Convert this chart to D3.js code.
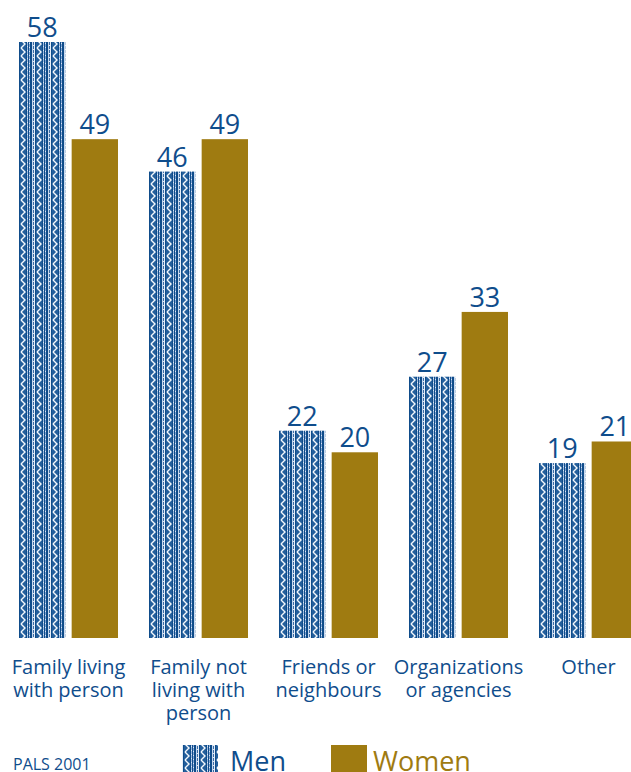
<!DOCTYPE html>
<html>
<head>
<meta charset="utf-8">
<script src="https://cdn.jsdelivr.net/npm/d3@7"></script>
<style>
  html, body { margin: 0; padding: 0; background: #fff; }
  svg { display: block; }
  text { font-family: "Open Sans", "DejaVu Sans", sans-serif; }
</style>
</head>
<body>
<svg id="chart" width="631" height="772"></svg>
<script>
// Source of help received, PALS 2001 (percent)
const categories = [
  ["Family living", "with person"],
  ["Family not", "living with", "person"],
  ["Friends or", "neighbours"],
  ["Organizations", "or agencies"],
  ["Other"]
];
const seriesNames = ["Men", "Women"];
const menValues = [58, 46, 22, 27, 19];
const womenValues = [49, 49, 20, 33, 21];
const sourceNote = "PALS 2001";

const BLUE = "#0f4d8c";
const GOLD = "#9f7b11";

const svg = d3.select("#chart");
const defs = svg.append("defs");

// Woven stripe texture used for the men's bars
const pat = defs.append("pattern")
  .attr("id", "weave")
  .attr("patternUnits", "userSpaceOnUse")
  .attr("x", 19).attr("y", 0)
  .attr("width", 16).attr("height", 8);
pat.append("rect").attr("width", 16).attr("height", 8).attr("fill", "#0f4c8a");
pat.append("rect").attr("x", 5).attr("width", 6).attr("height", 8).attr("fill", "#245f9c");
[[1, "#c9d9ee"], [2, "#3a6ca6"], [3, "#e6eef8"], [12, "#9fbbe0"], [14, "#7fa3d2"]]
  .forEach(([x, c]) => pat.append("rect").attr("x", x).attr("width", 1).attr("height", 8).attr("fill", c));
pat.append("path")
  .attr("d", "M6,0 L10,4 L6,8")
  .attr("fill", "none").attr("stroke", "#f4f8fc").attr("stroke-width", 1.4);
[[2, 1], [2, 5], [14, 3], [14, 7], [12, 2], [12, 6]].forEach(([x, yy]) =>
  pat.append("rect").attr("x", x).attr("y", yy).attr("width", 1).attr("height", 1).attr("fill", "#dce7f4"));

const x0 = d3.scaleBand()
  .domain(d3.range(categories.length))
  .range([12, 662])
  .paddingInner(0)
  .paddingOuter(0);

const x1 = d3.scaleBand()
  .domain(seriesNames)
  .range([7, x0.bandwidth() - 24])
  .paddingInner(0.12);

const y = d3.scaleLinear().domain([2.8, 58]).range([638, 42]);

const data = categories.map((c, i) => ({
  i,
  values: [
    { key: "Men", v: menValues[i] },
    { key: "Women", v: womenValues[i] }
  ]
}));

const groups = svg.append("g").selectAll("g")
  .data(data)
  .join("g")
  .attr("transform", d => `translate(${x0(d.i)},0)`);

groups.selectAll("rect")
  .data(d => d.values)
  .join("rect")
  .attr("x", d => x1(d.key))
  .attr("width", x1.bandwidth())
  .attr("y", d => y(d.v))
  .attr("height", d => y.range()[0] - y(d.v))
  .attr("fill", d => d.key === "Men" ? "url(#weave)" : GOLD);

groups.selectAll("text.val")
  .data(d => d.values)
  .join("text")
  .attr("class", "val")
  .attr("x", d => x1(d.key) + x1.bandwidth() / 2)
  .attr("y", d => y(d.v) - 5)
  .attr("text-anchor", "middle")
  .attr("font-size", 27)
  .attr("fill", BLUE)
  .text(d => d.v);

// Category labels under each group
groups.append("text")
  .attr("text-anchor", "middle")
  .attr("font-size", 20)
  .attr("fill", BLUE)
  .attr("transform", d => `translate(${x1("Men") + (x1("Women") + x1.bandwidth() - x1("Men")) / 2},674)`)
  .selectAll("tspan")
  .data(d => categories[d.i])
  .join("tspan")
  .attr("x", 0)
  .attr("dy", (d, j) => j === 0 ? 0 : 23)
  .text(d => d);

// Source note
svg.append("text")
  .attr("x", 13).attr("y", 770)
  .attr("font-size", 16)
  .attr("fill", BLUE)
  .text(sourceNote);

// Legend
const legend = svg.append("g");
const legendItems = [
  { name: seriesNames[0], fill: "url(#weave)", color: BLUE, x: 182, tx: 230 },
  { name: seriesNames[1], fill: GOLD, color: GOLD, x: 331, tx: 373 }
];
legend.selectAll("rect")
  .data(legendItems)
  .join("rect")
  .attr("x", d => d.x).attr("y", 745)
  .attr("width", 36).attr("height", 30)
  .attr("fill", d => d.fill);
legend.selectAll("text")
  .data(legendItems)
  .join("text")
  .attr("x", d => d.tx).attr("y", 771)
  .attr("font-size", 27)
  .attr("fill", d => d.color)
  .text(d => d.name);
</script>
</body>
</html>
